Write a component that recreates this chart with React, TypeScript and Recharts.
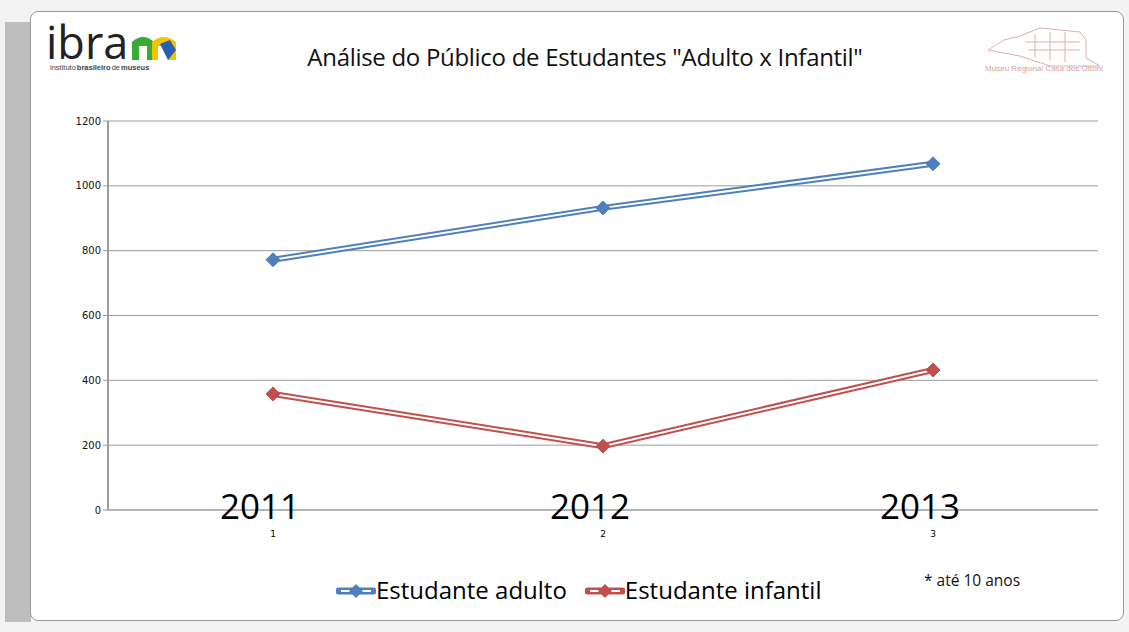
import React from "react";
import {
  LineChart,
  Line,
  XAxis,
  YAxis,
  CartesianGrid,
} from "recharts";

const years = ["2011", "2012", "2013"];
const indices = ["1", "2", "3"];
const adultos = [772, 932, 1068];
const infantis = [358, 197, 432];
const yTicks = [0, 200, 400, 600, 800, 1000, 1200];

const BLUE = "#4F7FBC";
const RED = "#C0504D";

const data = years.map((y, i) => ({
  idx: indices[i],
  year: y,
  adulto: adultos[i],
  infantil: infantis[i],
}));

const Diamond = (color: string) => (props: any) => {
  const { cx, cy, index } = props;
  if (cx == null || cy == null) return null;
  return (
    <path
      key={`d-${index}`}
      d={`M${cx},${cy - 7} L${cx + 7},${cy} L${cx},${cy + 7} L${cx - 7},${cy} Z`}
      fill={color}
      stroke={color}
    />
  );
};

const YearTick = (props: any) => {
  const { x, y, payload, index } = props;
  return (
    <g>
      <text
        x={x - 13}
        y={y + 1}
        textAnchor="middle"
        fontFamily="Open Sans, sans-serif"
        fontSize={35}
        fill="#000"
      >
        {years[index]}
      </text>
      <text
        x={x}
        y={y + 19}
        textAnchor="middle"
        fontFamily="DejaVu Sans, sans-serif"
        fontSize={9}
        fill="#000"
      >
        {payload.value}
      </text>
    </g>
  );
};

const LegendIcon = ({ color }: { color: string }) => (
  <svg width={40} height={16} style={{ verticalAlign: "middle", marginTop: -4 }}>
    <line x1={3} y1={8} x2={37} y2={8} stroke={color} strokeWidth={7} strokeLinecap="round" />
    <line x1={5} y1={8} x2={35} y2={8} stroke="#fff" strokeWidth={2} />
    <path d="M20,1 L27,8 L20,15 L13,8 Z" fill={color} />
  </svg>
);

const subWords = [
  { t: "instituto", b: false },
  { t: "brasileiro", b: true },
  { t: "de", b: false },
  { t: "museus", b: true },
];

export default function App() {
  return (
    <div
      style={{
        position: "absolute",
        left: 0,
        top: 0,
        width: 1129,
        height: 632,
        background: "#f3f3f3",
        overflow: "hidden",
      }}
    >
      {/* spreadsheet backdrop */}
      <div style={{ position: "absolute", left: 5, top: 22, width: 26, height: 600, background: "#bdbdbd" }} />
      <div
        style={{
          position: "absolute",
          left: 30,
          top: 11,
          width: 1092,
          height: 608,
          background: "#fff",
          border: "1px solid #9a9a9a",
          borderRadius: 8,
        }}
      />

      {/* ibram logo */}
      <div
        style={{
          position: "absolute",
          left: 46,
          top: 23,
          fontFamily: "Open Sans, sans-serif",
          fontSize: 45,
          lineHeight: "38px",
          color: "#222",
        }}
      >
        ibra
      </div>
      <svg style={{ position: "absolute", left: 128, top: 30 }} width={50} height={30}>
        <path d="M4,30 L4,12 Q15,2 26,12 L26,30 L19,30 L19,16 L11,16 L11,30 Z" fill="#3aa935" />
        <path d="M24,12 Q36,2 48,12 L48,30 L40,30 L40,16 L30,16 L30,30 L24,30 Z" fill="#f2c300" />
        <path d="M32,14 L42,10 L48,20 L40,30 Z" fill="#2a5fb0" />
      </svg>
      <div
        style={{
          position: "absolute",
          left: 50,
          top: 63,
          display: "flex",
          gap: 1,
          fontFamily: "Liberation Sans, sans-serif",
          fontSize: 7.5,
          lineHeight: "9px",
          color: "#444",
          whiteSpace: "nowrap",
        }}
      >
        {subWords.map((w) => (
          <span key={w.t} style={{ fontWeight: w.b ? "bold" : "normal" }}>
            {w.t}
          </span>
        ))}
      </div>

      {/* museum logo */}
      <svg style={{ position: "absolute", left: 980, top: 22 }} width={130} height={52} opacity={0.55}>
        <path d="M8,28 L24,18 L40,14 L60,6 L100,10 L106,18 L106,36 L120,44 L70,44 L40,34 Z" fill="none" stroke="#c07070" strokeWidth={1} />
        <path d="M55,12 L55,36 M70,10 L70,38 M85,10 L85,40 M45,20 L100,20 M48,28 L100,28" stroke="#c07070" strokeWidth={1} />
        <text x={5} y={49} fontFamily="Liberation Sans, sans-serif" fontSize={6.5} fill="#b05050" textLength={118} lengthAdjust="spacingAndGlyphs">
          Museu Regional Casa dos Ottoni
        </text>
      </svg>

      <div
        style={{
          position: "absolute",
          left: 0,
          top: 40,
          width: 1170,
          textAlign: "center",
          fontFamily: "Open Sans, sans-serif",
          fontSize: 24,
          letterSpacing: -0.3,
          color: "#111",
        }}
      >
        Análise do Público de Estudantes "Adulto x Infantil"
      </div>

      <div
        style={{
          position: "absolute",
          left: 924,
          top: 569,
          fontFamily: "Open Sans, sans-serif",
          fontSize: 15.5,
          color: "#111",
        }}
      >
        * até 10 anos
      </div>

      <div
        style={{
          position: "absolute",
          left: 336,
          top: 573,
          display: "flex",
          gap: 18,
          fontFamily: "Open Sans, sans-serif",
          fontSize: 24,
          letterSpacing: 0,
          color: "#000",
          whiteSpace: "nowrap",
        }}
      >
        <span>
          <LegendIcon color={BLUE} />
          Estudante adulto
        </span>
        <span>
          <LegendIcon color={RED} />
          Estudante infantil
        </span>
      </div>

      <div style={{ position: "absolute", left: 0, top: 0 }}>
        <LineChart
          width={1129}
          height={632}
          data={data}
          margin={{ top: 121, right: 31, bottom: 92, left: 48 }}
        >
          <CartesianGrid vertical={false} stroke="#9c9c9c" strokeWidth={1} />
          <XAxis
            dataKey="idx"
            padding={{ left: 165, right: 165 }}
            axisLine={{ stroke: "#9c9c9c" }}
            tickLine={false}
            tick={<YearTick />}
            height={30}
            interval={0}
          />
          <YAxis
            domain={[0, 1200]}
            ticks={yTicks}
            width={60}
            axisLine={{ stroke: "#9c9c9c", strokeWidth: 2 }}
            tickLine={{ stroke: "#9c9c9c" }}
            tickSize={5}
            tick={{ fontFamily: "DejaVu Sans, sans-serif", fontSize: 10, fill: "#111" }}
          />
          <Line dataKey="adulto" stroke={BLUE} strokeWidth={6} dot={false} isAnimationActive={false} legendType="none" />
          <Line dataKey="adulto" stroke="#fff" strokeWidth={2} dot={Diamond(BLUE)} activeDot={false} isAnimationActive={false} legendType="none" />
          <Line dataKey="infantil" stroke={RED} strokeWidth={6} dot={false} isAnimationActive={false} legendType="none" />
          <Line dataKey="infantil" stroke="#fff" strokeWidth={2} dot={Diamond(RED)} activeDot={false} isAnimationActive={false} legendType="none" />
        </LineChart>
      </div>
    </div>
  );
}
